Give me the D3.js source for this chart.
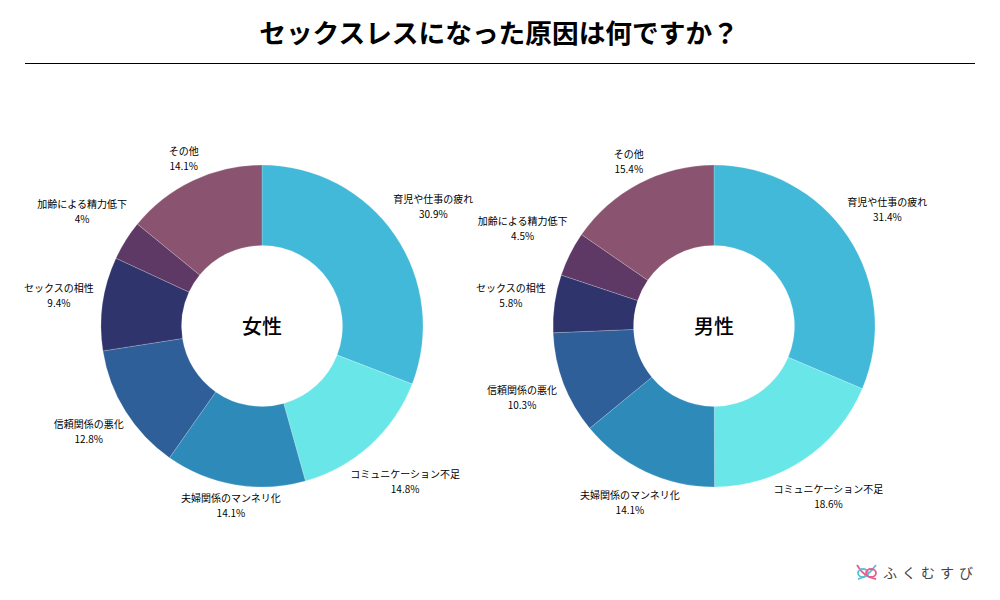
<!DOCTYPE html>
<html lang="ja">
<head>
<meta charset="utf-8">
<script src="https://cdn.jsdelivr.net/npm/d3@7"></script>
<style>
  html, body { margin: 0; background: #fff; }
  text { font-family: "Noto Sans CJK JP", "Noto Sans", sans-serif; fill: #000; }
</style>
</head>
<body>
<div id="svg-container"></div>
<script>
// data
const categories = ["育児や仕事の疲れ", "コミュニケーション不足", "夫婦関係のマンネリ化", "信頼関係の悪化", "セックスの相性", "加齢による精力低下", "その他"];
const femaleValues = [30.9, 14.8, 14.1, 12.8, 9.4, 4, 14.1];
const maleValues = [31.4, 18.6, 14.1, 10.3, 5.8, 4.5, 15.4];
const colors = ["#42b9d9", "#69e6e8", "#2d8ab9", "#2e5f99", "#30346d", "#5e3965", "#8a5470"];

const width = 1000;
const height = 600;
const outerR = 161;

const svg = d3.select("#svg-container").append("svg")
  .attr("width", width).attr("height", height)
  .style("display", "block");

// title
svg.append("text")
  .attr("x", 499).attr("y", 43)
  .attr("text-anchor", "middle")
  .attr("font-size", 26.7).attr("font-weight", 700)
  .text("セックスレスになった原因は何ですか？");

svg.append("line")
  .attr("x1", 25).attr("x2", 975)
  .attr("y1", 63.5).attr("y2", 63.5)
  .attr("stroke", "#000");

// donuts
const color = d3.scaleOrdinal().domain(categories).range(colors);
const pie = d3.pie().sort(null).value((d) => d.value);
const arc = d3.arc().innerRadius(80.5).outerRadius(outerR);

// push each label out until its box clears the ring
function labelPos(d, textWidth) {
  const mid = (d.startAngle + d.endAngle) / 2;
  const sin = Math.sin(mid);
  const cos = Math.cos(mid);
  const r = outerR + 2 + Math.abs(sin) * (textWidth / 2 + 6) + Math.abs(cos) * 12;
  return [sin * r, -cos * r - 2];
}

function drawDonut(cx, cy, name, values) {
  const g = svg.append("g").attr("transform", `translate(${cx},${cy})`);
  const data = pie(categories.map((c, i) => ({ category: c, value: values[i] })));

  g.selectAll("path").data(data).join("path")
    .attr("d", arc)
    .attr("fill", (d) => color(d.data.category))
    .attr("stroke", "#fff")
    .attr("stroke-width", 0.2);

  g.append("text")
    .attr("text-anchor", "middle")
    .attr("y", 8)
    .attr("font-size", 20)
    .attr("font-weight", 500)
    .text(name);

  const labels = g.selectAll("g.label").data(data).join("g")
    .attr("class", "label")
    .attr("text-anchor", "middle")
    .attr("font-size", 10);

  labels.append("text").attr("class", "name").attr("y", -3.5).text((d) => d.data.category);
  labels.append("text").attr("y", 11.5).text((d) => d.data.value + "%");

  labels.attr("transform", function (d) {
    const w = d3.select(this).select(".name").node().getComputedTextLength();
    return `translate(${labelPos(d, w)})`;
  });
}

drawDonut(262, 326, "女性", femaleValues);
drawDonut(714, 326, "男性", maleValues);

// logo
const logo = svg.append("g").attr("transform", "translate(857,564)").attr("fill", "none").attr("stroke-width", 1.8);
logo.append("path").attr("d", "M0,1 C5,10 12,14 19,15").attr("stroke", "#ea5c8f");
logo.append("path").attr("d", "M19,1 C14,8 8,14 1,15").attr("stroke", "#59c1d6");
logo.append("ellipse").attr("cx", 6).attr("cy", 9).attr("rx", 5).attr("ry", 4).attr("stroke", "#59c1d6");
logo.append("ellipse").attr("cx", 14).attr("cy", 9).attr("rx", 5).attr("ry", 4).attr("stroke", "#ea5c8f");

svg.append("text")
  .attr("x", 883).attr("y", 578)
  .attr("font-size", 14)
  .attr("letter-spacing", 5)
  .style("fill", "#444")
  .text("ふくむすび");
</script>
</body>
</html>
